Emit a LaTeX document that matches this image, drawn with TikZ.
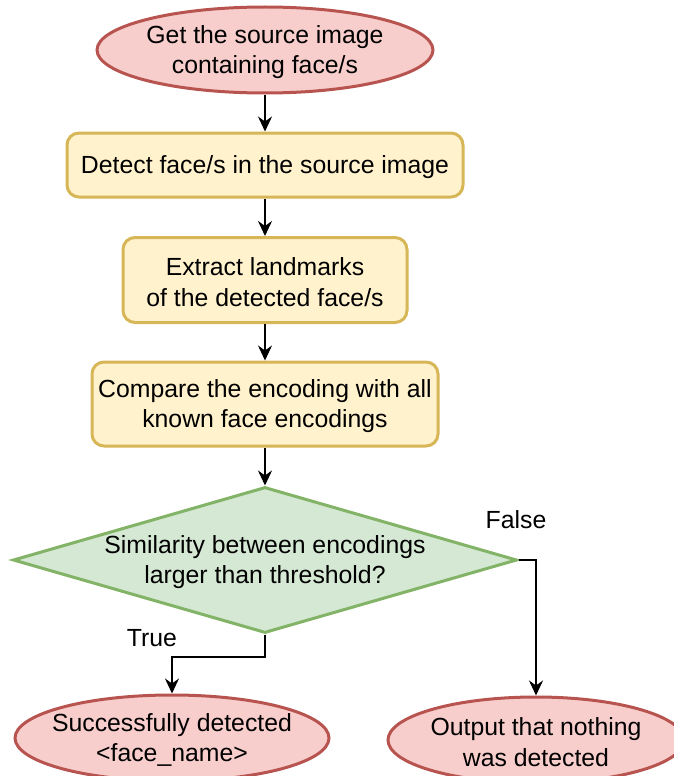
\documentclass[tikz,border=0pt]{standalone}
\usepackage{fontspec}
\setmainfont{Liberation Sans}
\usetikzlibrary{shapes.geometric,arrows.meta}

\definecolor{redfill}{HTML}{F8CECC}
\definecolor{redline}{HTML}{B85450}
\definecolor{yelfill}{HTML}{FFF2CC}
\definecolor{yelline}{HTML}{D6B656}
\definecolor{grnfill}{HTML}{D5E8D4}
\definecolor{grnline}{HTML}{82B366}

\tikzset{
  txt/.style={font=\fontsize{24.8}{30.5}\selectfont, align=center, text=black, yshift=-2pt},
  terminal/.style={ellipse, draw=redline, fill=redfill, line width=3pt, inner sep=0pt},
  process/.style={rectangle, rounded corners=12pt, draw=yelline, fill=yelfill, line width=3pt, inner sep=0pt},
  decision/.style={diamond, draw=grnline, fill=grnfill, line width=3pt, inner sep=0pt},
  flow/.style={line width=2pt, draw=black, -{Stealth[length=15pt,width=14pt,inset=5pt]}},
  edgelabel/.style={txt}
}

\begin{document}
\begin{tikzpicture}[x=1pt,y=-1pt]
  \useasboundingbox (0,0) rectangle (673,776);

  % start
  \node[terminal, minimum width=336pt, minimum height=86pt] (start) at (265,50) {};
  \node[txt] (starttext) at (start.center)
    {Get the source image\\containing face/s};

  % processing steps
  \node[process, minimum width=396pt, minimum height=64pt] (detect) at (265,165) {};
  \node[txt] (detecttext) at (detect.center)
    {Detect face/s in the source image};
  \node[process, minimum width=284pt, minimum height=85pt] (extract) at (265,280) {};
  \node[txt] (extracttext) at (extract.center)
    {Extract landmarks\\of the detected face/s};
  \node[process, minimum width=346pt, minimum height=84pt] (compare) at (265,404) {};
  \node[txt] (comparetext) at (compare.center)
    {Compare the encoding with all\\known face encodings};

  % decision
  \node[decision, minimum width=504pt, minimum height=146pt] (check) at (265,560) {};
  \node[txt] (checktext) at (check.center)
    {Similarity between encodings\\larger than threshold?};

  % outcomes
  \node[terminal, minimum width=314pt, minimum height=86pt] (found) at (172,738) {};
  \node[txt] (foundtext) at (found.center)
    {Successfully detected\\<face\_name>};
  \node[terminal, minimum width=296pt, minimum height=86pt] (none) at (536,740) {};
  \node[txt] (nonetext) at (none.center)
    {Output that nothing\\was detected};

  % connectors
  \draw[flow] (start.south) -- (detect.north);
  \draw[flow] (detect.south) -- (extract.north);
  \draw[flow] (extract.south) -- (compare.north);
  \draw[flow] (compare.south) -- (check.north);
  \draw[flow] (check.south) -- ++(0,22) -| (found.north);
  \draw[flow] (check.east) -| (none.north);

  % branch labels
  \node[edgelabel] (truelbl) at (152,636) {True};
  \node[edgelabel] (falselbl) at (516,518) {False};
\end{tikzpicture}
\end{document}
